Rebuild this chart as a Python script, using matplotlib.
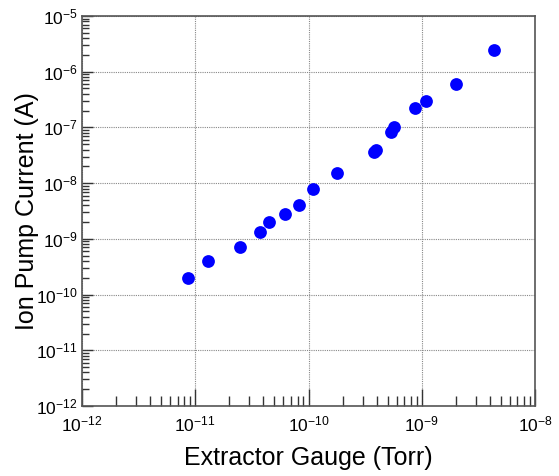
import matplotlib
matplotlib.use("Agg")
import matplotlib.pyplot as plt
from matplotlib.ticker import FixedLocator, NullFormatter, LogFormatterSciNotation

plt.rcParams['font.family'] = ['Liberation Sans', 'DejaVu Sans']
plt.rcParams['mathtext.fontset'] = 'custom'
plt.rcParams['mathtext.rm'] = 'Liberation Sans'
plt.rcParams['mathtext.it'] = 'Liberation Sans'
plt.rcParams['mathtext.default'] = 'regular'

gauge_torr = [8.69e-12, 1.29e-11, 2.48e-11, 3.73e-11, 4.51e-11, 6.24e-11, 8.3e-11,
              1.10e-10, 1.79e-10, 3.78e-10, 3.92e-10, 5.35e-10, 5.73e-10, 8.77e-10,
              1.09e-9, 2.0e-9, 4.38e-9]
pump_current_A = [2.02e-10, 4.02e-10, 7.0e-10, 1.33e-9, 1.97e-9, 2.74e-9, 4.03e-9,
                  7.9e-9, 1.53e-8, 3.56e-8, 3.92e-8, 8.35e-8, 1.01e-7, 2.25e-7,
                  3.01e-7, 6.0e-7, 2.42e-6]
x_decades = [-12, -11, -10, -9, -8]
y_decades = [-12, -11, -10, -9, -8, -7, -6, -5]

fig = plt.figure(figsize=(5.59, 4.76), dpi=100)
W, H = 559, 476
ax = fig.add_axes([82 / W, 1 - 406 / H, (535 - 82) / W, (406 - 16) / H])

ax.plot(gauge_torr, pump_current_A, 'o', color='#0000ff', markersize=9.2,
        markeredgewidth=0, zorder=3)

ax.set_xscale('log')
ax.set_yscale('log')
ax.set_xlim(10.0 ** x_decades[0], 10.0 ** x_decades[-1])
ax.set_ylim(10.0 ** y_decades[0], 10.0 ** y_decades[-1])

def minors(decs):
    return [m * 10.0 ** d for d in decs[:-1] for m in range(2, 10)]

ax.xaxis.set_major_locator(FixedLocator([10.0 ** d for d in x_decades]))
ax.yaxis.set_major_locator(FixedLocator([10.0 ** d for d in y_decades]))
ax.xaxis.set_major_formatter(LogFormatterSciNotation())
ax.yaxis.set_major_formatter(LogFormatterSciNotation())
ax.xaxis.set_minor_locator(FixedLocator(minors(x_decades)))
ax.yaxis.set_minor_locator(FixedLocator(minors(y_decades)))
ax.xaxis.set_minor_formatter(NullFormatter())
ax.yaxis.set_minor_formatter(NullFormatter())

ax.grid(True, which='major', linestyle=(0, (1, 1)), color='#888888', linewidth=0.8)
ax.set_axisbelow(True)

ax.tick_params(which='both', direction='in', top=False, right=False,
               labelsize=12.5, colors='#333333', labelcolor='black')
ax.tick_params(axis='x', which='major', length=12, width=1, pad=6)
ax.tick_params(axis='x', which='minor', length=7, width=1)
ax.tick_params(axis='y', which='major', length=8, width=1, pad=3)
ax.tick_params(axis='y', which='minor', length=5, width=1)

for s in ax.spines.values():
    s.set_color('#555555')
    s.set_linewidth(1.2)

ax.set_xlabel('Extractor Gauge (Torr)', fontsize=18, va='center')
ax.set_ylabel('Ion Pump Current (A)', fontsize=18, va='center')
ax.xaxis.set_label_coords(0.5, -0.133)
ax.yaxis.set_label_coords(-0.121, 0.5)

fig.savefig('out.png', dpi=100)
